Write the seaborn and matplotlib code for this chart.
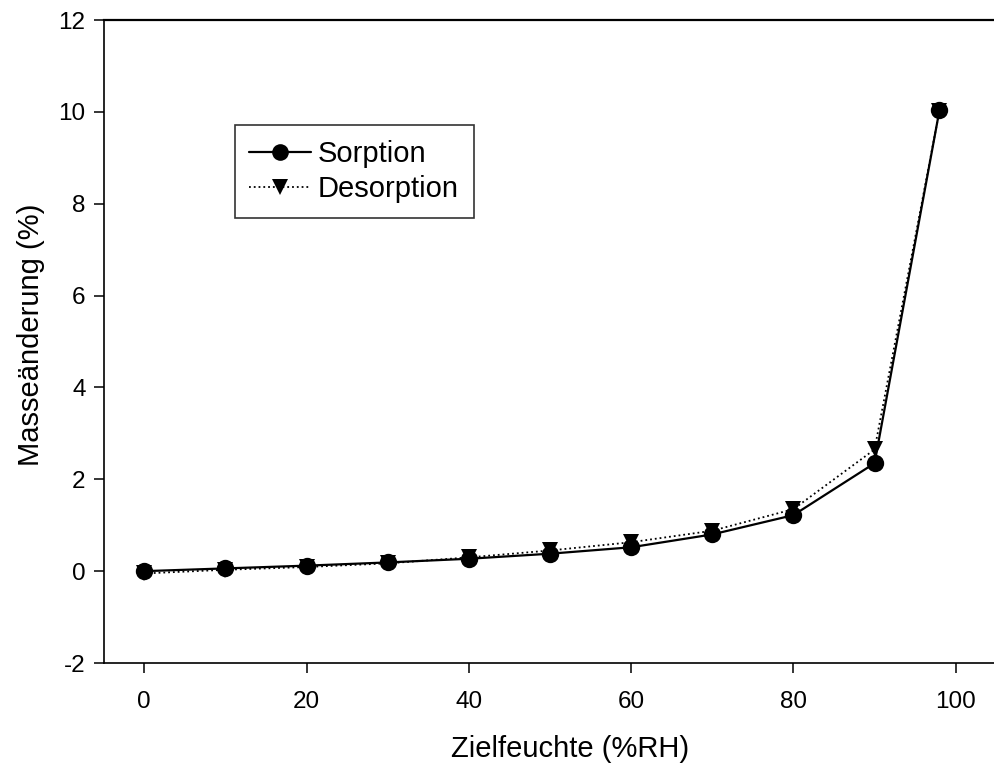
import matplotlib
matplotlib.use("Agg")
import matplotlib.pyplot as plt
import seaborn as sns
import pandas as pd
from matplotlib.lines import Line2D

# Target relative humidity steps (%RH)
humidity = [0, 10, 20, 30, 40, 50, 60, 70, 80, 90, 98]
# Mass change (%) during the sorption and desorption cycles
sorption = [0.00, 0.06, 0.12, 0.19, 0.27, 0.38, 0.52, 0.80, 1.22, 2.35, 10.04]
desorption = [-0.05, 0.03, 0.09, 0.17, 0.30, 0.45, 0.63, 0.88, 1.35, 2.65, 10.03]

x_ticks = [0, 20, 40, 60, 80, 100]
y_ticks = [-2, 0, 2, 4, 6, 8, 10, 12]

sns.set_theme(style="white")
plt.rcParams["font.family"] = ["Liberation Sans", "DejaVu Sans"]
plt.rcParams["axes.unicode_minus"] = False
plt.rcParams["text.color"] = "black"

df = pd.DataFrame({"rh": humidity, "sorp": sorption, "desorp": desorption})

fig = plt.figure(figsize=(9.94, 7.74), dpi=100)
ax = fig.add_axes([0.1043, 0.1434, 0.898, 0.8307])

sns.lineplot(data=df, x="rh", y="desorp", ax=ax, color="black", linestyle=":",
             linewidth=1.3, marker="v", markersize=12, markeredgewidth=0,
             zorder=2)
sns.lineplot(data=df, x="rh", y="sorp", ax=ax, color="black", linestyle="-",
             linewidth=1.6, marker="o", markersize=12.5, markeredgewidth=0,
             zorder=3)

ax.set_xlim(-5, 105)
ax.set_ylim(-2, 12)
ax.set_xticks(x_ticks)
ax.set_yticks(y_ticks)
ax.tick_params(axis="both", direction="out", length=7, width=1.1,
               color="black", labelsize=17.5, labelcolor="black",
               bottom=True, left=True, pad=6)
ax.tick_params(axis="x", pad=13)

ax.set_xlabel("Zielfeuchte (%RH)", fontsize=21, color="black")
ax.set_ylabel("Masseänderung (%)", fontsize=21, color="black")
ax.xaxis.set_label_coords(0.522, -0.112)
ax.yaxis.set_label_coords(-0.066, 0.51)

for side in ["left", "bottom", "top"]:
    ax.spines[side].set_visible(True)
    ax.spines[side].set_color("black")
    ax.spines[side].set_linewidth(1.2)
ax.spines["top"].set_linewidth(1.6)
ax.spines["right"].set_visible(False)

handles = [
    Line2D([], [], color="black", linestyle="-", linewidth=1.6, marker="o",
           markersize=12, markeredgewidth=0),
    Line2D([], [], color="black", linestyle=":", linewidth=1.3, marker="v",
           markersize=12, markeredgewidth=0),
]
leg = ax.legend(handles, ["Sorption", "Desorption"], loc="upper left",
                bbox_to_anchor=(0.147, 0.836), borderaxespad=0, fontsize=21,
                frameon=True, fancybox=False, handlelength=2.1,
                handletextpad=0.25, labelspacing=0.25, borderpad=0.5,
                labelcolor="black")
leg.get_frame().set_edgecolor("black")
leg.get_frame().set_linewidth(1.2)

fig.savefig("out.png", dpi=100)
